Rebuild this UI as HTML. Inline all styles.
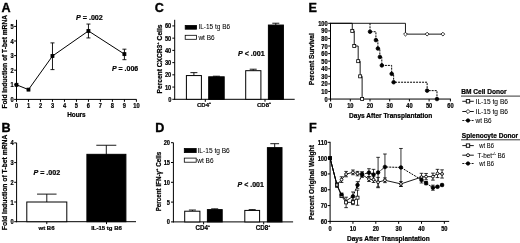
<!DOCTYPE html>
<html><head><meta charset="utf-8"><title>Figure</title>
<style>
html,body{margin:0;padding:0;background:#fff;}
body{width:520px;height:243px;overflow:hidden;}
svg{display:block;}
svg text{font-family:"Liberation Sans",Arial,Helvetica,sans-serif;fill:#000;stroke:#000;stroke-width:0.22px;}
</style></head><body>
<svg width="520" height="243" viewBox="0 0 520 243" style="filter:blur(0.45px)">
<rect x="0" y="0" width="520" height="243" fill="#fff"/>
<text x="1.5" y="11.8" font-size="12.6" font-weight="bold" text-anchor="start" style="stroke-width:0.35px">A</text>
<text x="1.6" y="132.0" font-size="12.6" font-weight="bold" text-anchor="start" style="stroke-width:0.35px">B</text>
<text x="154.8" y="12.0" font-size="12.6" font-weight="bold" text-anchor="start" style="stroke-width:0.35px">C</text>
<text x="155.3" y="131.9" font-size="12.6" font-weight="bold" text-anchor="start" style="stroke-width:0.35px">D</text>
<text x="308.5" y="11.6" font-size="12.6" font-weight="bold" text-anchor="start" style="stroke-width:0.35px">E</text>
<text x="309.0" y="131.6" font-size="12.6" font-weight="bold" text-anchor="start" style="stroke-width:0.35px">F</text>
<line x1="16.50" y1="19.80" x2="16.50" y2="99.90" stroke="#000" stroke-width="1.0"/>
<line x1="16.00" y1="99.40" x2="136.60" y2="99.40" stroke="#000" stroke-width="1.0"/>
<line x1="14.10" y1="99.40" x2="16.50" y2="99.40" stroke="#000" stroke-width="1.0"/>
<text x="13.6" y="101.95" font-size="6.4" font-weight="bold" text-anchor="end" textLength="3.17" lengthAdjust="spacingAndGlyphs" >0</text>
<line x1="14.10" y1="84.80" x2="16.50" y2="84.80" stroke="#000" stroke-width="1.0"/>
<text x="13.6" y="87.35000000000001" font-size="6.4" font-weight="bold" text-anchor="end" textLength="3.17" lengthAdjust="spacingAndGlyphs" >1</text>
<line x1="14.10" y1="70.20" x2="16.50" y2="70.20" stroke="#000" stroke-width="1.0"/>
<text x="13.6" y="72.75" font-size="6.4" font-weight="bold" text-anchor="end" textLength="3.17" lengthAdjust="spacingAndGlyphs" >2</text>
<line x1="14.10" y1="55.60" x2="16.50" y2="55.60" stroke="#000" stroke-width="1.0"/>
<text x="13.6" y="58.15000000000001" font-size="6.4" font-weight="bold" text-anchor="end" textLength="3.17" lengthAdjust="spacingAndGlyphs" >3</text>
<line x1="14.10" y1="41.00" x2="16.50" y2="41.00" stroke="#000" stroke-width="1.0"/>
<text x="13.6" y="43.55000000000001" font-size="6.4" font-weight="bold" text-anchor="end" textLength="3.17" lengthAdjust="spacingAndGlyphs" >4</text>
<line x1="14.10" y1="26.40" x2="16.50" y2="26.40" stroke="#000" stroke-width="1.0"/>
<text x="13.6" y="28.950000000000006" font-size="6.4" font-weight="bold" text-anchor="end" textLength="3.17" lengthAdjust="spacingAndGlyphs" >5</text>
<line x1="16.50" y1="99.40" x2="16.50" y2="101.80" stroke="#000" stroke-width="1.0"/>
<text x="16.5" y="107.9" font-size="6.4" font-weight="bold" text-anchor="middle" textLength="3.17" lengthAdjust="spacingAndGlyphs" >0</text>
<line x1="28.49" y1="99.40" x2="28.49" y2="101.80" stroke="#000" stroke-width="1.0"/>
<text x="28.490000000000002" y="107.9" font-size="6.4" font-weight="bold" text-anchor="middle" textLength="3.17" lengthAdjust="spacingAndGlyphs" >1</text>
<line x1="40.48" y1="99.40" x2="40.48" y2="101.80" stroke="#000" stroke-width="1.0"/>
<text x="40.480000000000004" y="107.9" font-size="6.4" font-weight="bold" text-anchor="middle" textLength="3.17" lengthAdjust="spacingAndGlyphs" >2</text>
<line x1="52.47" y1="99.40" x2="52.47" y2="101.80" stroke="#000" stroke-width="1.0"/>
<text x="52.47" y="107.9" font-size="6.4" font-weight="bold" text-anchor="middle" textLength="3.17" lengthAdjust="spacingAndGlyphs" >3</text>
<line x1="64.46" y1="99.40" x2="64.46" y2="101.80" stroke="#000" stroke-width="1.0"/>
<text x="64.46000000000001" y="107.9" font-size="6.4" font-weight="bold" text-anchor="middle" textLength="3.17" lengthAdjust="spacingAndGlyphs" >4</text>
<line x1="76.45" y1="99.40" x2="76.45" y2="101.80" stroke="#000" stroke-width="1.0"/>
<text x="76.45" y="107.9" font-size="6.4" font-weight="bold" text-anchor="middle" textLength="3.17" lengthAdjust="spacingAndGlyphs" >5</text>
<line x1="88.44" y1="99.40" x2="88.44" y2="101.80" stroke="#000" stroke-width="1.0"/>
<text x="88.44" y="107.9" font-size="6.4" font-weight="bold" text-anchor="middle" textLength="3.17" lengthAdjust="spacingAndGlyphs" >6</text>
<line x1="100.43" y1="99.40" x2="100.43" y2="101.80" stroke="#000" stroke-width="1.0"/>
<text x="100.43" y="107.9" font-size="6.4" font-weight="bold" text-anchor="middle" textLength="3.17" lengthAdjust="spacingAndGlyphs" >7</text>
<line x1="112.42" y1="99.40" x2="112.42" y2="101.80" stroke="#000" stroke-width="1.0"/>
<text x="112.42" y="107.9" font-size="6.4" font-weight="bold" text-anchor="middle" textLength="3.17" lengthAdjust="spacingAndGlyphs" >8</text>
<line x1="124.41" y1="99.40" x2="124.41" y2="101.80" stroke="#000" stroke-width="1.0"/>
<text x="124.41" y="107.9" font-size="6.4" font-weight="bold" text-anchor="middle" textLength="3.17" lengthAdjust="spacingAndGlyphs" >9</text>
<line x1="136.40" y1="99.40" x2="136.40" y2="101.80" stroke="#000" stroke-width="1.0"/>
<text x="136.4" y="107.9" font-size="6.4" font-weight="bold" text-anchor="middle" textLength="6.34" lengthAdjust="spacingAndGlyphs" >10</text>
<text x="76.4" y="116.7" font-size="6.4" font-weight="bold" text-anchor="middle" >Hours</text>
<text x="7.2" y="61.8" font-size="7.0" font-weight="bold" text-anchor="middle" textLength="93.5" lengthAdjust="spacingAndGlyphs" transform="rotate(-90 7.2 61.8)" >Fold Induction of T-bet mRNA</text>
<polyline points="16.50,84.80 28.49,89.62 52.47,56.04 88.44,30.93 124.41,54.14" fill="none" stroke="#000" stroke-width="1.0"/>
<line x1="52.47" y1="42.90" x2="52.47" y2="69.62" stroke="#000" stroke-width="0.9"/>
<line x1="50.47" y1="42.90" x2="54.47" y2="42.90" stroke="#000" stroke-width="0.9"/>
<line x1="50.47" y1="69.62" x2="54.47" y2="69.62" stroke="#000" stroke-width="0.9"/>
<line x1="88.44" y1="24.06" x2="88.44" y2="37.93" stroke="#000" stroke-width="0.9"/>
<line x1="86.44" y1="24.06" x2="90.44" y2="24.06" stroke="#000" stroke-width="0.9"/>
<line x1="86.44" y1="37.93" x2="90.44" y2="37.93" stroke="#000" stroke-width="0.9"/>
<line x1="124.41" y1="49.18" x2="124.41" y2="59.69" stroke="#000" stroke-width="0.9"/>
<line x1="122.41" y1="49.18" x2="126.41" y2="49.18" stroke="#000" stroke-width="0.9"/>
<line x1="122.41" y1="59.69" x2="126.41" y2="59.69" stroke="#000" stroke-width="0.9"/>
<rect x="15.00" y="83.30" width="3.00" height="3.00" fill="#000" stroke="#000" stroke-width="0.8"/>
<rect x="26.99" y="88.12" width="3.00" height="3.00" fill="#000" stroke="#000" stroke-width="0.8"/>
<rect x="50.97" y="54.54" width="3.00" height="3.00" fill="#000" stroke="#000" stroke-width="0.8"/>
<rect x="86.94" y="29.43" width="3.00" height="3.00" fill="#000" stroke="#000" stroke-width="0.8"/>
<rect x="122.91" y="52.64" width="3.00" height="3.00" fill="#000" stroke="#000" stroke-width="0.8"/>
<text x="76.0" y="20.0" font-size="7.3" font-weight="bold" text-anchor="start" textLength="26.8" lengthAdjust="spacingAndGlyphs" ><tspan font-style="italic">P</tspan> = .002</text>
<text x="112.0" y="71.0" font-size="7.3" font-weight="bold" text-anchor="start" textLength="26.2" lengthAdjust="spacingAndGlyphs" ><tspan font-style="italic">P</tspan> = .006</text>
<line x1="16.60" y1="142.90" x2="16.60" y2="222.20" stroke="#000" stroke-width="1.0"/>
<line x1="16.10" y1="221.70" x2="136.00" y2="221.70" stroke="#000" stroke-width="1.0"/>
<line x1="14.20" y1="221.70" x2="16.60" y2="221.70" stroke="#000" stroke-width="1.0"/>
<text x="13.700000000000001" y="224.24999999999997" font-size="6.4" font-weight="bold" text-anchor="end" textLength="3.17" lengthAdjust="spacingAndGlyphs" >0</text>
<line x1="14.20" y1="202.00" x2="16.60" y2="202.00" stroke="#000" stroke-width="1.0"/>
<text x="13.700000000000001" y="204.54999999999998" font-size="6.4" font-weight="bold" text-anchor="end" textLength="3.17" lengthAdjust="spacingAndGlyphs" >1</text>
<line x1="14.20" y1="182.30" x2="16.60" y2="182.30" stroke="#000" stroke-width="1.0"/>
<text x="13.700000000000001" y="184.84999999999997" font-size="6.4" font-weight="bold" text-anchor="end" textLength="3.17" lengthAdjust="spacingAndGlyphs" >2</text>
<line x1="14.20" y1="162.60" x2="16.60" y2="162.60" stroke="#000" stroke-width="1.0"/>
<text x="13.700000000000001" y="165.14999999999998" font-size="6.4" font-weight="bold" text-anchor="end" textLength="3.17" lengthAdjust="spacingAndGlyphs" >3</text>
<line x1="14.20" y1="142.90" x2="16.60" y2="142.90" stroke="#000" stroke-width="1.0"/>
<text x="13.700000000000001" y="145.44999999999996" font-size="6.4" font-weight="bold" text-anchor="end" textLength="3.17" lengthAdjust="spacingAndGlyphs" >4</text>
<line x1="46.80" y1="194.12" x2="46.80" y2="202.00" stroke="#000" stroke-width="0.9"/>
<line x1="37.05" y1="194.12" x2="56.55" y2="194.12" stroke="#000" stroke-width="0.9"/>
<rect x="26.80" y="202.00" width="40.00" height="19.70" fill="#fff" stroke="#000" stroke-width="1"/>
<line x1="106.30" y1="145.26" x2="106.30" y2="154.72" stroke="#000" stroke-width="0.9"/>
<line x1="96.30" y1="145.26" x2="116.30" y2="145.26" stroke="#000" stroke-width="0.9"/>
<rect x="86.90" y="154.33" width="39.00" height="67.37" fill="#000" stroke="#000" stroke-width="1"/>
<line x1="46.80" y1="221.70" x2="46.80" y2="224.10" stroke="#000" stroke-width="1.0"/>
<line x1="106.50" y1="221.70" x2="106.50" y2="224.10" stroke="#000" stroke-width="1.0"/>
<text x="46.5" y="230.2" font-size="6.0" font-weight="bold" text-anchor="middle" >wt B6</text>
<text x="106.5" y="230.2" font-size="6.0" font-weight="bold" text-anchor="middle" >IL-15 tg B6</text>
<text x="7.1" y="182.4" font-size="7.0" font-weight="bold" text-anchor="middle" textLength="95.5" lengthAdjust="spacingAndGlyphs" transform="rotate(-90 7.1 182.4)" >Fold Induction of T-bet mRNA</text>
<text x="33.4" y="175.2" font-size="7.3" font-weight="bold" text-anchor="start" textLength="26.8" lengthAdjust="spacingAndGlyphs" ><tspan font-style="italic">P</tspan> = .002</text>
<line x1="174.70" y1="19.80" x2="174.70" y2="99.80" stroke="#000" stroke-width="1.0"/>
<line x1="174.20" y1="99.30" x2="294.70" y2="99.30" stroke="#000" stroke-width="1.0"/>
<line x1="172.30" y1="99.30" x2="174.70" y2="99.30" stroke="#000" stroke-width="1.0"/>
<text x="171.29999999999998" y="101.85" font-size="6.4" font-weight="bold" text-anchor="end" textLength="3.17" lengthAdjust="spacingAndGlyphs" >0</text>
<line x1="172.30" y1="87.07" x2="174.70" y2="87.07" stroke="#000" stroke-width="1.0"/>
<text x="171.29999999999998" y="89.61999999999999" font-size="6.4" font-weight="bold" text-anchor="end" textLength="6.34" lengthAdjust="spacingAndGlyphs" >10</text>
<line x1="172.30" y1="74.84" x2="174.70" y2="74.84" stroke="#000" stroke-width="1.0"/>
<text x="171.29999999999998" y="77.39" font-size="6.4" font-weight="bold" text-anchor="end" textLength="6.34" lengthAdjust="spacingAndGlyphs" >20</text>
<line x1="172.30" y1="62.61" x2="174.70" y2="62.61" stroke="#000" stroke-width="1.0"/>
<text x="171.29999999999998" y="65.16" font-size="6.4" font-weight="bold" text-anchor="end" textLength="6.34" lengthAdjust="spacingAndGlyphs" >30</text>
<line x1="172.30" y1="50.38" x2="174.70" y2="50.38" stroke="#000" stroke-width="1.0"/>
<text x="171.29999999999998" y="52.93" font-size="6.4" font-weight="bold" text-anchor="end" textLength="6.34" lengthAdjust="spacingAndGlyphs" >40</text>
<line x1="172.30" y1="38.15" x2="174.70" y2="38.15" stroke="#000" stroke-width="1.0"/>
<text x="171.29999999999998" y="40.699999999999996" font-size="6.4" font-weight="bold" text-anchor="end" textLength="6.34" lengthAdjust="spacingAndGlyphs" >50</text>
<line x1="172.30" y1="25.92" x2="174.70" y2="25.92" stroke="#000" stroke-width="1.0"/>
<text x="171.29999999999998" y="28.469999999999988" font-size="6.4" font-weight="bold" text-anchor="end" textLength="6.34" lengthAdjust="spacingAndGlyphs" >60</text>
<line x1="193.90" y1="72.64" x2="193.90" y2="75.57" stroke="#000" stroke-width="0.9"/>
<line x1="190.40" y1="72.64" x2="197.40" y2="72.64" stroke="#000" stroke-width="0.9"/>
<rect x="186.40" y="75.57" width="15.00" height="23.73" fill="#fff" stroke="#000" stroke-width="1"/>
<line x1="216.40" y1="76.19" x2="216.40" y2="76.80" stroke="#000" stroke-width="0.9"/>
<line x1="212.90" y1="76.19" x2="219.90" y2="76.19" stroke="#000" stroke-width="0.9"/>
<rect x="208.70" y="76.80" width="15.50" height="22.50" fill="#000" stroke="#000" stroke-width="1"/>
<line x1="253.20" y1="69.21" x2="253.20" y2="70.68" stroke="#000" stroke-width="0.9"/>
<line x1="249.70" y1="69.21" x2="256.70" y2="69.21" stroke="#000" stroke-width="0.9"/>
<rect x="245.70" y="70.68" width="15.20" height="28.62" fill="#fff" stroke="#000" stroke-width="1"/>
<line x1="275.80" y1="23.23" x2="275.80" y2="25.06" stroke="#000" stroke-width="0.9"/>
<line x1="272.30" y1="23.23" x2="279.30" y2="23.23" stroke="#000" stroke-width="0.9"/>
<rect x="268.40" y="25.06" width="15.00" height="74.24" fill="#000" stroke="#000" stroke-width="1"/>
<line x1="205.30" y1="99.30" x2="205.30" y2="101.80" stroke="#000" stroke-width="1.0"/>
<line x1="265.00" y1="99.30" x2="265.00" y2="101.70" stroke="#000" stroke-width="1.0"/>
<text x="197.0" y="107.4" font-size="6.2" font-weight="bold" text-anchor="start" textLength="14.0" lengthAdjust="spacingAndGlyphs" >CD4<tspan font-size="3.4" dy="-3.0">+</tspan></text>
<text x="257.0" y="107.4" font-size="6.2" font-weight="bold" text-anchor="start" textLength="14.0" lengthAdjust="spacingAndGlyphs" >CD8<tspan font-size="3.4" dy="-3.0">+</tspan></text>
<text x="162.0" y="59.0" font-size="6.5" font-weight="bold" text-anchor="middle" textLength="69.0" lengthAdjust="spacingAndGlyphs" transform="rotate(-90 162.0 59.0)" >Percent CXCR3<tspan font-size="4.2" dy="-3.0">+</tspan><tspan dy="3.0"> Cells</tspan></text>
<rect x="185.20" y="25.40" width="11.40" height="3.80" fill="#000" stroke="#000" stroke-width="0.8"/>
<rect x="185.20" y="35.30" width="11.40" height="4.00" fill="#fff" stroke="#000" stroke-width="0.8"/>
<text x="198.4" y="29.3" font-size="7.0" font-weight="normal" text-anchor="start" textLength="31.8" lengthAdjust="spacingAndGlyphs" style="stroke-width:0.06px">IL-15 tg B6</text>
<text x="198.4" y="39.7" font-size="7.0" font-weight="normal" text-anchor="start" textLength="16.2" lengthAdjust="spacingAndGlyphs" style="stroke-width:0.06px">wt B6</text>
<text x="238" y="55.5" font-size="7.3" font-weight="bold" text-anchor="start" textLength="26.7" lengthAdjust="spacingAndGlyphs" ><tspan font-style="italic">P</tspan> &lt; .001</text>
<line x1="173.40" y1="142.70" x2="173.40" y2="222.40" stroke="#000" stroke-width="1.0"/>
<line x1="172.90" y1="221.90" x2="293.10" y2="221.90" stroke="#000" stroke-width="1.0"/>
<line x1="171.00" y1="221.90" x2="173.40" y2="221.90" stroke="#000" stroke-width="1.0"/>
<text x="170.0" y="224.45" font-size="6.4" font-weight="bold" text-anchor="end" textLength="3.17" lengthAdjust="spacingAndGlyphs" >0</text>
<line x1="171.00" y1="202.10" x2="173.40" y2="202.10" stroke="#000" stroke-width="1.0"/>
<text x="170.0" y="204.64999999999998" font-size="6.4" font-weight="bold" text-anchor="end" textLength="3.17" lengthAdjust="spacingAndGlyphs" >5</text>
<line x1="171.00" y1="182.30" x2="173.40" y2="182.30" stroke="#000" stroke-width="1.0"/>
<text x="170.0" y="184.85" font-size="6.4" font-weight="bold" text-anchor="end" textLength="6.34" lengthAdjust="spacingAndGlyphs" >10</text>
<line x1="171.00" y1="162.50" x2="173.40" y2="162.50" stroke="#000" stroke-width="1.0"/>
<text x="170.0" y="165.04999999999998" font-size="6.4" font-weight="bold" text-anchor="end" textLength="6.34" lengthAdjust="spacingAndGlyphs" >15</text>
<line x1="171.00" y1="142.70" x2="173.40" y2="142.70" stroke="#000" stroke-width="1.0"/>
<text x="170.0" y="145.24999999999997" font-size="6.4" font-weight="bold" text-anchor="end" textLength="6.34" lengthAdjust="spacingAndGlyphs" >20</text>
<line x1="192.40" y1="210.02" x2="192.40" y2="211.21" stroke="#000" stroke-width="0.9"/>
<line x1="188.90" y1="210.02" x2="195.90" y2="210.02" stroke="#000" stroke-width="0.9"/>
<rect x="184.70" y="211.21" width="15.20" height="10.69" fill="#fff" stroke="#000" stroke-width="1"/>
<line x1="214.70" y1="208.83" x2="214.70" y2="209.62" stroke="#000" stroke-width="0.9"/>
<line x1="211.20" y1="208.83" x2="218.20" y2="208.83" stroke="#000" stroke-width="0.9"/>
<rect x="207.40" y="209.62" width="14.80" height="12.28" fill="#000" stroke="#000" stroke-width="1"/>
<line x1="252.20" y1="209.62" x2="252.20" y2="210.42" stroke="#000" stroke-width="0.9"/>
<line x1="248.70" y1="209.62" x2="255.70" y2="209.62" stroke="#000" stroke-width="0.9"/>
<rect x="244.80" y="210.42" width="14.80" height="11.48" fill="#fff" stroke="#000" stroke-width="1"/>
<line x1="274.70" y1="143.69" x2="274.70" y2="147.65" stroke="#000" stroke-width="0.9"/>
<line x1="270.30" y1="143.69" x2="279.10" y2="143.69" stroke="#000" stroke-width="0.9"/>
<rect x="267.40" y="147.65" width="14.60" height="74.25" fill="#000" stroke="#000" stroke-width="1"/>
<line x1="203.60" y1="221.90" x2="203.60" y2="224.30" stroke="#000" stroke-width="1.0"/>
<line x1="263.70" y1="221.90" x2="263.70" y2="224.30" stroke="#000" stroke-width="1.0"/>
<text x="195.6" y="230.1" font-size="6.5" font-weight="bold" text-anchor="start" textLength="14.4" lengthAdjust="spacingAndGlyphs" >CD4<tspan font-size="3.4" dy="-3.2">+</tspan></text>
<text x="255.8" y="230.1" font-size="6.5" font-weight="bold" text-anchor="start" textLength="14.4" lengthAdjust="spacingAndGlyphs" >CD8<tspan font-size="3.4" dy="-3.2">+</tspan></text>
<text x="160.6" y="181.6" font-size="6.5" font-weight="bold" text-anchor="middle" textLength="59.5" lengthAdjust="spacingAndGlyphs" transform="rotate(-90 160.6 181.6)" >Percent IFN-γ<tspan font-size="4.2" dy="-3.0">+</tspan><tspan dy="3.0"> Cells</tspan></text>
<rect x="184.30" y="148.50" width="11.90" height="4.10" fill="#000" stroke="#000" stroke-width="0.8"/>
<rect x="184.30" y="158.10" width="11.90" height="4.10" fill="#fff" stroke="#000" stroke-width="0.8"/>
<text x="197.5" y="152.9" font-size="7.0" font-weight="normal" text-anchor="start" textLength="32.3" lengthAdjust="spacingAndGlyphs" style="stroke-width:0.06px">IL-15 tg B6</text>
<text x="197.3" y="162.7" font-size="7.0" font-weight="normal" text-anchor="start" textLength="16.2" lengthAdjust="spacingAndGlyphs" style="stroke-width:0.06px">wt B6</text>
<text x="237.6" y="187.4" font-size="7.3" font-weight="bold" text-anchor="start" textLength="26.2" lengthAdjust="spacingAndGlyphs" ><tspan font-style="italic">P</tspan> &lt; .001</text>
<line x1="330.50" y1="22.80" x2="330.50" y2="99.55" stroke="#000" stroke-width="1.0"/>
<line x1="330.10" y1="99.05" x2="450.90" y2="99.05" stroke="#000" stroke-width="1.0"/>
<line x1="328.20" y1="99.05" x2="330.60" y2="99.05" stroke="#000" stroke-width="1.0"/>
<text x="327.70000000000005" y="101.6" font-size="6.4" font-weight="bold" text-anchor="end" textLength="3.17" lengthAdjust="spacingAndGlyphs" >0</text>
<line x1="328.20" y1="91.47" x2="330.60" y2="91.47" stroke="#000" stroke-width="1.0"/>
<text x="327.70000000000005" y="94.02499999999999" font-size="6.4" font-weight="bold" text-anchor="end" textLength="6.34" lengthAdjust="spacingAndGlyphs" >10</text>
<line x1="328.20" y1="83.90" x2="330.60" y2="83.90" stroke="#000" stroke-width="1.0"/>
<text x="327.70000000000005" y="86.45" font-size="6.4" font-weight="bold" text-anchor="end" textLength="6.34" lengthAdjust="spacingAndGlyphs" >20</text>
<line x1="328.20" y1="76.33" x2="330.60" y2="76.33" stroke="#000" stroke-width="1.0"/>
<text x="327.70000000000005" y="78.875" font-size="6.4" font-weight="bold" text-anchor="end" textLength="6.34" lengthAdjust="spacingAndGlyphs" >30</text>
<line x1="328.20" y1="68.75" x2="330.60" y2="68.75" stroke="#000" stroke-width="1.0"/>
<text x="327.70000000000005" y="71.3" font-size="6.4" font-weight="bold" text-anchor="end" textLength="6.34" lengthAdjust="spacingAndGlyphs" >40</text>
<line x1="328.20" y1="61.17" x2="330.60" y2="61.17" stroke="#000" stroke-width="1.0"/>
<text x="327.70000000000005" y="63.725" font-size="6.4" font-weight="bold" text-anchor="end" textLength="6.34" lengthAdjust="spacingAndGlyphs" >50</text>
<line x1="328.20" y1="53.60" x2="330.60" y2="53.60" stroke="#000" stroke-width="1.0"/>
<text x="327.70000000000005" y="56.150000000000006" font-size="6.4" font-weight="bold" text-anchor="end" textLength="6.34" lengthAdjust="spacingAndGlyphs" >60</text>
<line x1="328.20" y1="46.02" x2="330.60" y2="46.02" stroke="#000" stroke-width="1.0"/>
<text x="327.70000000000005" y="48.575" font-size="6.4" font-weight="bold" text-anchor="end" textLength="6.34" lengthAdjust="spacingAndGlyphs" >70</text>
<line x1="328.20" y1="38.45" x2="330.60" y2="38.45" stroke="#000" stroke-width="1.0"/>
<text x="327.70000000000005" y="41.00000000000001" font-size="6.4" font-weight="bold" text-anchor="end" textLength="6.34" lengthAdjust="spacingAndGlyphs" >80</text>
<line x1="328.20" y1="30.88" x2="330.60" y2="30.88" stroke="#000" stroke-width="1.0"/>
<text x="327.70000000000005" y="33.425000000000004" font-size="6.4" font-weight="bold" text-anchor="end" textLength="6.34" lengthAdjust="spacingAndGlyphs" >90</text>
<line x1="328.20" y1="23.30" x2="330.60" y2="23.30" stroke="#000" stroke-width="1.0"/>
<text x="327.70000000000005" y="25.849999999999998" font-size="6.4" font-weight="bold" text-anchor="end" textLength="9.51" lengthAdjust="spacingAndGlyphs" >100</text>
<line x1="330.60" y1="99.05" x2="330.60" y2="101.45" stroke="#000" stroke-width="1.0"/>
<text x="330.6" y="107.5" font-size="6.4" font-weight="bold" text-anchor="middle" textLength="3.17" lengthAdjust="spacingAndGlyphs" >0</text>
<line x1="350.30" y1="99.05" x2="350.30" y2="101.45" stroke="#000" stroke-width="1.0"/>
<text x="350.3" y="107.5" font-size="6.4" font-weight="bold" text-anchor="middle" textLength="6.34" lengthAdjust="spacingAndGlyphs" >10</text>
<line x1="370.00" y1="99.05" x2="370.00" y2="101.45" stroke="#000" stroke-width="1.0"/>
<text x="370.0" y="107.5" font-size="6.4" font-weight="bold" text-anchor="middle" textLength="6.34" lengthAdjust="spacingAndGlyphs" >20</text>
<line x1="389.70" y1="99.05" x2="389.70" y2="101.45" stroke="#000" stroke-width="1.0"/>
<text x="389.70000000000005" y="107.5" font-size="6.4" font-weight="bold" text-anchor="middle" textLength="6.34" lengthAdjust="spacingAndGlyphs" >30</text>
<line x1="409.40" y1="99.05" x2="409.40" y2="101.45" stroke="#000" stroke-width="1.0"/>
<text x="409.40000000000003" y="107.5" font-size="6.4" font-weight="bold" text-anchor="middle" textLength="6.34" lengthAdjust="spacingAndGlyphs" >40</text>
<line x1="429.10" y1="99.05" x2="429.10" y2="101.45" stroke="#000" stroke-width="1.0"/>
<text x="429.1" y="107.5" font-size="6.4" font-weight="bold" text-anchor="middle" textLength="6.34" lengthAdjust="spacingAndGlyphs" >50</text>
<line x1="450.40" y1="99.05" x2="450.40" y2="101.45" stroke="#000" stroke-width="1.0"/>
<text x="450.4" y="107.5" font-size="6.4" font-weight="bold" text-anchor="middle" textLength="6.34" lengthAdjust="spacingAndGlyphs" >60</text>
<text x="390.7" y="118.0" font-size="6.4" font-weight="bold" text-anchor="middle" textLength="83.4" lengthAdjust="spacingAndGlyphs" >Days After Transplantation</text>
<text x="314.0" y="59.2" font-size="7.0" font-weight="bold" text-anchor="middle" textLength="52.2" lengthAdjust="spacingAndGlyphs" transform="rotate(-90 314.0 59.2)" >Percent Survival</text>
<polyline points="330.60,23.30 405.46,23.30 405.46,34.13 442.89,34.13" fill="none" stroke="#000" stroke-width="0.9"/>
<polygon points="403.56,34.13 405.46,32.23 407.36,34.13 405.46,36.03" fill="#fff" stroke="#000" stroke-width="0.8"/>
<polygon points="425.23,34.13 427.13,32.23 429.03,34.13 427.13,36.03" fill="#fff" stroke="#000" stroke-width="0.8"/>
<polygon points="440.99,34.13 442.89,32.23 444.79,34.13 442.89,36.03" fill="#fff" stroke="#000" stroke-width="0.8"/>
<polyline points="330.60,23.30 352.27,23.30 352.27,23.30 352.27,30.88 354.24,30.88 354.24,46.02 358.18,46.02 358.18,61.17 360.15,61.17 360.15,76.33 362.12,76.33 362.12,99.05" fill="none" stroke="#000" stroke-width="0.9"/>
<rect x="350.77" y="29.38" width="3.00" height="3.00" fill="#fff" stroke="#000" stroke-width="0.8"/>
<rect x="352.74" y="44.52" width="3.00" height="3.00" fill="#fff" stroke="#000" stroke-width="0.8"/>
<rect x="356.68" y="59.67" width="3.00" height="3.00" fill="#fff" stroke="#000" stroke-width="0.8"/>
<rect x="358.65" y="74.83" width="3.00" height="3.00" fill="#fff" stroke="#000" stroke-width="0.8"/>
<rect x="360.62" y="97.55" width="3.00" height="3.00" fill="#fff" stroke="#000" stroke-width="0.8"/>
<polyline points="370.00,23.30 370.00,23.30 370.00,31.71 375.91,31.71 375.91,40.12 377.88,40.12 377.88,48.52 379.85,48.52 379.85,56.93 381.82,56.93 381.82,65.42 391.67,65.42 391.67,73.83 393.64,73.83 393.64,82.23 427.13,82.23 427.13,90.64 436.98,90.64 436.98,99.05" fill="none" stroke="#000" stroke-width="1.0" stroke-dasharray="2.0 1.0"/>
<circle cx="370.00" cy="31.71" r="1.8" fill="#000" stroke="#000" stroke-width="0.8"/>
<circle cx="375.91" cy="40.12" r="1.8" fill="#000" stroke="#000" stroke-width="0.8"/>
<circle cx="377.88" cy="48.52" r="1.8" fill="#000" stroke="#000" stroke-width="0.8"/>
<circle cx="379.85" cy="56.93" r="1.8" fill="#000" stroke="#000" stroke-width="0.8"/>
<circle cx="381.82" cy="65.42" r="1.8" fill="#000" stroke="#000" stroke-width="0.8"/>
<circle cx="391.67" cy="73.83" r="1.8" fill="#000" stroke="#000" stroke-width="0.8"/>
<circle cx="393.64" cy="82.23" r="1.8" fill="#000" stroke="#000" stroke-width="0.8"/>
<circle cx="427.13" cy="90.64" r="1.8" fill="#000" stroke="#000" stroke-width="0.8"/>
<circle cx="436.98" cy="99.05" r="1.8" fill="#000" stroke="#000" stroke-width="0.8"/>
<line x1="330.10" y1="141.80" x2="330.10" y2="221.90" stroke="#000" stroke-width="1.0"/>
<line x1="329.60" y1="221.40" x2="449.20" y2="221.40" stroke="#000" stroke-width="1.0"/>
<line x1="327.70" y1="221.40" x2="330.10" y2="221.40" stroke="#000" stroke-width="1.0"/>
<text x="327.20000000000005" y="223.95" font-size="6.4" font-weight="bold" text-anchor="end" textLength="6.34" lengthAdjust="spacingAndGlyphs" >60</text>
<line x1="327.70" y1="205.58" x2="330.10" y2="205.58" stroke="#000" stroke-width="1.0"/>
<text x="327.20000000000005" y="208.13" font-size="6.4" font-weight="bold" text-anchor="end" textLength="6.34" lengthAdjust="spacingAndGlyphs" >70</text>
<line x1="327.70" y1="189.76" x2="330.10" y2="189.76" stroke="#000" stroke-width="1.0"/>
<text x="327.20000000000005" y="192.30999999999997" font-size="6.4" font-weight="bold" text-anchor="end" textLength="6.34" lengthAdjust="spacingAndGlyphs" >80</text>
<line x1="327.70" y1="173.94" x2="330.10" y2="173.94" stroke="#000" stroke-width="1.0"/>
<text x="327.20000000000005" y="176.48999999999998" font-size="6.4" font-weight="bold" text-anchor="end" textLength="6.34" lengthAdjust="spacingAndGlyphs" >90</text>
<line x1="327.70" y1="158.12" x2="330.10" y2="158.12" stroke="#000" stroke-width="1.0"/>
<text x="327.20000000000005" y="160.67" font-size="6.4" font-weight="bold" text-anchor="end" textLength="9.51" lengthAdjust="spacingAndGlyphs" >100</text>
<line x1="327.70" y1="142.30" x2="330.10" y2="142.30" stroke="#000" stroke-width="1.0"/>
<text x="327.20000000000005" y="144.85" font-size="6.4" font-weight="bold" text-anchor="end" textLength="9.51" lengthAdjust="spacingAndGlyphs" >110</text>
<line x1="330.10" y1="221.40" x2="330.10" y2="223.80" stroke="#000" stroke-width="1.0"/>
<text x="330.1" y="230.6" font-size="6.4" font-weight="bold" text-anchor="middle" textLength="3.17" lengthAdjust="spacingAndGlyphs" >0</text>
<line x1="352.95" y1="221.40" x2="352.95" y2="223.80" stroke="#000" stroke-width="1.0"/>
<text x="352.95000000000005" y="230.6" font-size="6.4" font-weight="bold" text-anchor="middle" textLength="6.34" lengthAdjust="spacingAndGlyphs" >10</text>
<line x1="375.80" y1="221.40" x2="375.80" y2="223.80" stroke="#000" stroke-width="1.0"/>
<text x="375.8" y="230.6" font-size="6.4" font-weight="bold" text-anchor="middle" textLength="6.34" lengthAdjust="spacingAndGlyphs" >20</text>
<line x1="398.65" y1="221.40" x2="398.65" y2="223.80" stroke="#000" stroke-width="1.0"/>
<text x="398.65000000000003" y="230.6" font-size="6.4" font-weight="bold" text-anchor="middle" textLength="6.34" lengthAdjust="spacingAndGlyphs" >30</text>
<line x1="421.50" y1="221.40" x2="421.50" y2="223.80" stroke="#000" stroke-width="1.0"/>
<text x="421.5" y="230.6" font-size="6.4" font-weight="bold" text-anchor="middle" textLength="6.34" lengthAdjust="spacingAndGlyphs" >40</text>
<line x1="444.35" y1="221.40" x2="444.35" y2="223.80" stroke="#000" stroke-width="1.0"/>
<text x="444.35" y="230.6" font-size="6.4" font-weight="bold" text-anchor="middle" textLength="6.34" lengthAdjust="spacingAndGlyphs" >50</text>
<text x="388.4" y="240.7" font-size="6.4" font-weight="bold" text-anchor="middle" textLength="82.8" lengthAdjust="spacingAndGlyphs" >Days After Transplantation</text>
<text x="314.0" y="182.6" font-size="7.0" font-weight="bold" text-anchor="middle" textLength="74.9" lengthAdjust="spacingAndGlyphs" transform="rotate(-90 314.0 182.6)" >Percent Original Weight</text>
<polyline points="330.10,158.12 336.96,185.01 341.53,196.09 346.10,202.42 352.95,202.26 357.52,197.67" fill="none" stroke="#000" stroke-width="0.9"/>
<polyline points="330.10,158.12 336.96,185.01 341.53,179.64 346.10,174.10 352.95,172.36 357.52,173.62 362.09,174.57 368.95,179.16 373.52,179.64 378.09,182.17 384.94,180.27 400.94,183.91 421.50,177.10 426.07,176.63 432.93,176.63 437.50,173.47 442.07,173.94" fill="none" stroke="#000" stroke-width="0.9"/>
<polyline points="330.10,158.12 336.96,185.01 341.53,194.51 346.10,200.83 352.95,196.40" fill="none" stroke="#000" stroke-width="0.9"/>
<polyline points="352.95,196.40 357.52,185.01 362.09,174.41 368.95,172.67 373.52,174.57 378.09,172.52 384.94,166.98 400.94,167.45 421.50,179.79 426.07,183.12 432.93,187.70 437.50,186.75 442.07,185.01" fill="none" stroke="#000" stroke-width="1.0" stroke-dasharray="2.0 1.0"/>
<line x1="336.96" y1="183.12" x2="336.96" y2="186.91" stroke="#000" stroke-width="0.8"/>
<line x1="335.16" y1="183.12" x2="338.76" y2="183.12" stroke="#000" stroke-width="0.8"/>
<line x1="335.16" y1="186.91" x2="338.76" y2="186.91" stroke="#000" stroke-width="0.8"/>
<line x1="341.53" y1="194.82" x2="341.53" y2="197.35" stroke="#000" stroke-width="0.8"/>
<line x1="339.73" y1="194.82" x2="343.33" y2="194.82" stroke="#000" stroke-width="0.8"/>
<line x1="339.73" y1="197.35" x2="343.33" y2="197.35" stroke="#000" stroke-width="0.8"/>
<line x1="346.10" y1="197.20" x2="346.10" y2="207.64" stroke="#000" stroke-width="0.8"/>
<line x1="344.30" y1="197.20" x2="347.90" y2="197.20" stroke="#000" stroke-width="0.8"/>
<line x1="344.30" y1="207.64" x2="347.90" y2="207.64" stroke="#000" stroke-width="0.8"/>
<line x1="352.95" y1="199.88" x2="352.95" y2="204.63" stroke="#000" stroke-width="0.8"/>
<line x1="351.15" y1="199.88" x2="354.75" y2="199.88" stroke="#000" stroke-width="0.8"/>
<line x1="351.15" y1="204.63" x2="354.75" y2="204.63" stroke="#000" stroke-width="0.8"/>
<line x1="357.52" y1="190.08" x2="357.52" y2="205.26" stroke="#000" stroke-width="0.8"/>
<line x1="355.72" y1="190.08" x2="359.32" y2="190.08" stroke="#000" stroke-width="0.8"/>
<line x1="355.72" y1="205.26" x2="359.32" y2="205.26" stroke="#000" stroke-width="0.8"/>
<line x1="336.96" y1="182.80" x2="336.96" y2="187.23" stroke="#000" stroke-width="0.8"/>
<line x1="335.16" y1="182.80" x2="338.76" y2="182.80" stroke="#000" stroke-width="0.8"/>
<line x1="335.16" y1="187.23" x2="338.76" y2="187.23" stroke="#000" stroke-width="0.8"/>
<line x1="341.53" y1="176.79" x2="341.53" y2="182.48" stroke="#000" stroke-width="0.8"/>
<line x1="339.73" y1="176.79" x2="343.33" y2="176.79" stroke="#000" stroke-width="0.8"/>
<line x1="339.73" y1="182.48" x2="343.33" y2="182.48" stroke="#000" stroke-width="0.8"/>
<line x1="346.10" y1="171.41" x2="346.10" y2="176.79" stroke="#000" stroke-width="0.8"/>
<line x1="344.30" y1="171.41" x2="347.90" y2="171.41" stroke="#000" stroke-width="0.8"/>
<line x1="344.30" y1="176.79" x2="347.90" y2="176.79" stroke="#000" stroke-width="0.8"/>
<line x1="352.95" y1="169.99" x2="352.95" y2="174.73" stroke="#000" stroke-width="0.8"/>
<line x1="351.15" y1="169.99" x2="354.75" y2="169.99" stroke="#000" stroke-width="0.8"/>
<line x1="351.15" y1="174.73" x2="354.75" y2="174.73" stroke="#000" stroke-width="0.8"/>
<line x1="357.52" y1="171.41" x2="357.52" y2="175.84" stroke="#000" stroke-width="0.8"/>
<line x1="355.72" y1="171.41" x2="359.32" y2="171.41" stroke="#000" stroke-width="0.8"/>
<line x1="355.72" y1="175.84" x2="359.32" y2="175.84" stroke="#000" stroke-width="0.8"/>
<line x1="362.09" y1="171.88" x2="362.09" y2="177.26" stroke="#000" stroke-width="0.8"/>
<line x1="360.29" y1="171.88" x2="363.89" y2="171.88" stroke="#000" stroke-width="0.8"/>
<line x1="360.29" y1="177.26" x2="363.89" y2="177.26" stroke="#000" stroke-width="0.8"/>
<line x1="368.95" y1="176.79" x2="368.95" y2="181.53" stroke="#000" stroke-width="0.8"/>
<line x1="367.15" y1="176.79" x2="370.75" y2="176.79" stroke="#000" stroke-width="0.8"/>
<line x1="367.15" y1="181.53" x2="370.75" y2="181.53" stroke="#000" stroke-width="0.8"/>
<line x1="373.52" y1="176.79" x2="373.52" y2="182.48" stroke="#000" stroke-width="0.8"/>
<line x1="371.72" y1="176.79" x2="375.32" y2="176.79" stroke="#000" stroke-width="0.8"/>
<line x1="371.72" y1="182.48" x2="375.32" y2="182.48" stroke="#000" stroke-width="0.8"/>
<line x1="378.09" y1="177.42" x2="378.09" y2="186.91" stroke="#000" stroke-width="0.8"/>
<line x1="376.29" y1="177.42" x2="379.89" y2="177.42" stroke="#000" stroke-width="0.8"/>
<line x1="376.29" y1="186.91" x2="379.89" y2="186.91" stroke="#000" stroke-width="0.8"/>
<line x1="384.94" y1="177.90" x2="384.94" y2="182.64" stroke="#000" stroke-width="0.8"/>
<line x1="383.14" y1="177.90" x2="386.74" y2="177.90" stroke="#000" stroke-width="0.8"/>
<line x1="383.14" y1="182.64" x2="386.74" y2="182.64" stroke="#000" stroke-width="0.8"/>
<line x1="400.94" y1="181.53" x2="400.94" y2="186.28" stroke="#000" stroke-width="0.8"/>
<line x1="399.14" y1="181.53" x2="402.74" y2="181.53" stroke="#000" stroke-width="0.8"/>
<line x1="399.14" y1="186.28" x2="402.74" y2="186.28" stroke="#000" stroke-width="0.8"/>
<line x1="421.50" y1="173.31" x2="421.50" y2="180.90" stroke="#000" stroke-width="0.8"/>
<line x1="419.70" y1="173.31" x2="423.30" y2="173.31" stroke="#000" stroke-width="0.8"/>
<line x1="419.70" y1="180.90" x2="423.30" y2="180.90" stroke="#000" stroke-width="0.8"/>
<line x1="426.07" y1="173.47" x2="426.07" y2="179.79" stroke="#000" stroke-width="0.8"/>
<line x1="424.27" y1="173.47" x2="427.87" y2="173.47" stroke="#000" stroke-width="0.8"/>
<line x1="424.27" y1="179.79" x2="427.87" y2="179.79" stroke="#000" stroke-width="0.8"/>
<line x1="432.93" y1="173.15" x2="432.93" y2="180.11" stroke="#000" stroke-width="0.8"/>
<line x1="431.12" y1="173.15" x2="434.73" y2="173.15" stroke="#000" stroke-width="0.8"/>
<line x1="431.12" y1="180.11" x2="434.73" y2="180.11" stroke="#000" stroke-width="0.8"/>
<line x1="437.50" y1="169.35" x2="437.50" y2="177.58" stroke="#000" stroke-width="0.8"/>
<line x1="435.69" y1="169.35" x2="439.30" y2="169.35" stroke="#000" stroke-width="0.8"/>
<line x1="435.69" y1="177.58" x2="439.30" y2="177.58" stroke="#000" stroke-width="0.8"/>
<line x1="442.07" y1="169.83" x2="442.07" y2="178.05" stroke="#000" stroke-width="0.8"/>
<line x1="440.27" y1="169.83" x2="443.87" y2="169.83" stroke="#000" stroke-width="0.8"/>
<line x1="440.27" y1="178.05" x2="443.87" y2="178.05" stroke="#000" stroke-width="0.8"/>
<line x1="352.95" y1="191.97" x2="352.95" y2="200.83" stroke="#000" stroke-width="0.8"/>
<line x1="351.15" y1="191.97" x2="354.75" y2="191.97" stroke="#000" stroke-width="0.8"/>
<line x1="351.15" y1="200.83" x2="354.75" y2="200.83" stroke="#000" stroke-width="0.8"/>
<line x1="357.52" y1="181.69" x2="357.52" y2="188.34" stroke="#000" stroke-width="0.8"/>
<line x1="355.72" y1="181.69" x2="359.32" y2="181.69" stroke="#000" stroke-width="0.8"/>
<line x1="355.72" y1="188.34" x2="359.32" y2="188.34" stroke="#000" stroke-width="0.8"/>
<line x1="362.09" y1="172.04" x2="362.09" y2="176.79" stroke="#000" stroke-width="0.8"/>
<line x1="360.29" y1="172.04" x2="363.89" y2="172.04" stroke="#000" stroke-width="0.8"/>
<line x1="360.29" y1="176.79" x2="363.89" y2="176.79" stroke="#000" stroke-width="0.8"/>
<line x1="368.95" y1="168.72" x2="368.95" y2="176.63" stroke="#000" stroke-width="0.8"/>
<line x1="367.15" y1="168.72" x2="370.75" y2="168.72" stroke="#000" stroke-width="0.8"/>
<line x1="367.15" y1="176.63" x2="370.75" y2="176.63" stroke="#000" stroke-width="0.8"/>
<line x1="373.52" y1="169.35" x2="373.52" y2="179.79" stroke="#000" stroke-width="0.8"/>
<line x1="371.72" y1="169.35" x2="375.32" y2="169.35" stroke="#000" stroke-width="0.8"/>
<line x1="371.72" y1="179.79" x2="375.32" y2="179.79" stroke="#000" stroke-width="0.8"/>
<line x1="378.09" y1="157.33" x2="378.09" y2="187.70" stroke="#000" stroke-width="0.8"/>
<line x1="376.29" y1="157.33" x2="379.89" y2="157.33" stroke="#000" stroke-width="0.8"/>
<line x1="376.29" y1="187.70" x2="379.89" y2="187.70" stroke="#000" stroke-width="0.8"/>
<line x1="384.94" y1="154.01" x2="384.94" y2="179.95" stroke="#000" stroke-width="0.8"/>
<line x1="383.14" y1="154.01" x2="386.74" y2="154.01" stroke="#000" stroke-width="0.8"/>
<line x1="383.14" y1="179.95" x2="386.74" y2="179.95" stroke="#000" stroke-width="0.8"/>
<line x1="400.94" y1="148.47" x2="400.94" y2="186.44" stroke="#000" stroke-width="0.8"/>
<line x1="399.14" y1="148.47" x2="402.74" y2="148.47" stroke="#000" stroke-width="0.8"/>
<line x1="399.14" y1="186.44" x2="402.74" y2="186.44" stroke="#000" stroke-width="0.8"/>
<line x1="421.50" y1="176.63" x2="421.50" y2="182.96" stroke="#000" stroke-width="0.8"/>
<line x1="419.70" y1="176.63" x2="423.30" y2="176.63" stroke="#000" stroke-width="0.8"/>
<line x1="419.70" y1="182.96" x2="423.30" y2="182.96" stroke="#000" stroke-width="0.8"/>
<line x1="426.07" y1="181.53" x2="426.07" y2="184.70" stroke="#000" stroke-width="0.8"/>
<line x1="424.27" y1="181.53" x2="427.87" y2="181.53" stroke="#000" stroke-width="0.8"/>
<line x1="424.27" y1="184.70" x2="427.87" y2="184.70" stroke="#000" stroke-width="0.8"/>
<line x1="432.93" y1="185.17" x2="432.93" y2="190.23" stroke="#000" stroke-width="0.8"/>
<line x1="431.12" y1="185.17" x2="434.73" y2="185.17" stroke="#000" stroke-width="0.8"/>
<line x1="431.12" y1="190.23" x2="434.73" y2="190.23" stroke="#000" stroke-width="0.8"/>
<line x1="437.50" y1="185.81" x2="437.50" y2="187.70" stroke="#000" stroke-width="0.8"/>
<line x1="435.69" y1="185.81" x2="439.30" y2="185.81" stroke="#000" stroke-width="0.8"/>
<line x1="435.69" y1="187.70" x2="439.30" y2="187.70" stroke="#000" stroke-width="0.8"/>
<line x1="442.07" y1="184.06" x2="442.07" y2="185.96" stroke="#000" stroke-width="0.8"/>
<line x1="440.27" y1="184.06" x2="443.87" y2="184.06" stroke="#000" stroke-width="0.8"/>
<line x1="440.27" y1="185.96" x2="443.87" y2="185.96" stroke="#000" stroke-width="0.8"/>
<rect x="328.60" y="156.62" width="3.00" height="3.00" fill="#fff" stroke="#000" stroke-width="0.8"/>
<rect x="335.46" y="183.51" width="3.00" height="3.00" fill="#fff" stroke="#000" stroke-width="0.8"/>
<rect x="340.03" y="194.59" width="3.00" height="3.00" fill="#fff" stroke="#000" stroke-width="0.8"/>
<rect x="344.60" y="200.92" width="3.00" height="3.00" fill="#fff" stroke="#000" stroke-width="0.8"/>
<rect x="351.45" y="200.76" width="3.00" height="3.00" fill="#fff" stroke="#000" stroke-width="0.8"/>
<rect x="356.02" y="196.17" width="3.00" height="3.00" fill="#fff" stroke="#000" stroke-width="0.8"/>
<circle cx="336.96" cy="185.01" r="1.4" fill="#fff" stroke="#000" stroke-width="0.9"/>
<circle cx="341.53" cy="179.64" r="1.4" fill="#fff" stroke="#000" stroke-width="0.9"/>
<circle cx="346.10" cy="174.10" r="1.4" fill="#fff" stroke="#000" stroke-width="0.9"/>
<circle cx="352.95" cy="172.36" r="1.4" fill="#fff" stroke="#000" stroke-width="0.9"/>
<circle cx="357.52" cy="173.62" r="1.4" fill="#fff" stroke="#000" stroke-width="0.9"/>
<circle cx="362.09" cy="174.57" r="1.4" fill="#fff" stroke="#000" stroke-width="0.9"/>
<circle cx="368.95" cy="179.16" r="1.4" fill="#fff" stroke="#000" stroke-width="0.9"/>
<circle cx="373.52" cy="179.64" r="1.4" fill="#fff" stroke="#000" stroke-width="0.9"/>
<circle cx="378.09" cy="182.17" r="1.4" fill="#fff" stroke="#000" stroke-width="0.9"/>
<circle cx="384.94" cy="180.27" r="1.4" fill="#fff" stroke="#000" stroke-width="0.9"/>
<circle cx="400.94" cy="183.91" r="1.4" fill="#fff" stroke="#000" stroke-width="0.9"/>
<circle cx="421.50" cy="177.10" r="1.4" fill="#fff" stroke="#000" stroke-width="0.9"/>
<circle cx="426.07" cy="176.63" r="1.4" fill="#fff" stroke="#000" stroke-width="0.9"/>
<circle cx="432.93" cy="176.63" r="1.4" fill="#fff" stroke="#000" stroke-width="0.9"/>
<circle cx="437.50" cy="173.47" r="1.4" fill="#fff" stroke="#000" stroke-width="0.9"/>
<circle cx="442.07" cy="173.94" r="1.4" fill="#fff" stroke="#000" stroke-width="0.9"/>
<circle cx="352.95" cy="196.40" r="1.8" fill="#000" stroke="#000" stroke-width="0.8"/>
<circle cx="357.52" cy="185.01" r="1.8" fill="#000" stroke="#000" stroke-width="0.8"/>
<circle cx="362.09" cy="174.41" r="1.8" fill="#000" stroke="#000" stroke-width="0.8"/>
<circle cx="368.95" cy="172.67" r="1.8" fill="#000" stroke="#000" stroke-width="0.8"/>
<circle cx="373.52" cy="174.57" r="1.8" fill="#000" stroke="#000" stroke-width="0.8"/>
<circle cx="378.09" cy="172.52" r="1.8" fill="#000" stroke="#000" stroke-width="0.8"/>
<circle cx="384.94" cy="166.98" r="1.8" fill="#000" stroke="#000" stroke-width="0.8"/>
<circle cx="400.94" cy="167.45" r="1.8" fill="#000" stroke="#000" stroke-width="0.8"/>
<circle cx="421.50" cy="179.79" r="1.8" fill="#000" stroke="#000" stroke-width="0.8"/>
<circle cx="426.07" cy="183.12" r="1.8" fill="#000" stroke="#000" stroke-width="0.8"/>
<circle cx="432.93" cy="187.70" r="1.8" fill="#000" stroke="#000" stroke-width="0.8"/>
<circle cx="437.50" cy="186.75" r="1.8" fill="#000" stroke="#000" stroke-width="0.8"/>
<circle cx="442.07" cy="185.01" r="1.8" fill="#000" stroke="#000" stroke-width="0.8"/>
<rect x="340.03" y="193.01" width="3.00" height="3.00" fill="#000" stroke="#000" stroke-width="0.8"/>
<rect x="328.70" y="156.72" width="2.80" height="2.80" fill="#000" stroke="#000" stroke-width="0.8"/>
<text x="461.2" y="93.7" font-size="6.6" font-weight="bold" text-anchor="start" textLength="45.4" lengthAdjust="spacingAndGlyphs" >BM Cell Donor</text>
<line x1="461.00" y1="96.10" x2="520.00" y2="96.10" stroke="#000" stroke-width="0.8"/>
<line x1="462.30" y1="101.30" x2="473.80" y2="101.30" stroke="#000" stroke-width="0.9"/>
<rect x="466.30" y="99.60" width="3.40" height="3.40" fill="#fff" stroke="#000" stroke-width="0.9"/>
<line x1="462.30" y1="111.50" x2="473.80" y2="111.50" stroke="#000" stroke-width="0.9"/>
<polygon points="465.90,111.50 468.00,109.40 470.10,111.50 468.00,113.60" fill="#fff" stroke="#000" stroke-width="0.8"/>
<line x1="462.30" y1="120.50" x2="473.80" y2="120.50" stroke="#000" stroke-width="0.9" stroke-dasharray="2.0 1.1"/>
<circle cx="468.00" cy="120.50" r="1.7" fill="#000" stroke="#000" stroke-width="0.8"/>
<text x="475.6" y="103.6" font-size="6.3" font-weight="normal" text-anchor="start" textLength="32.4" lengthAdjust="spacingAndGlyphs" style="stroke-width:0.06px">IL-15 tg B6</text>
<text x="475.6" y="113.8" font-size="6.3" font-weight="normal" text-anchor="start" textLength="32.4" lengthAdjust="spacingAndGlyphs" style="stroke-width:0.06px">IL-15 tg B6</text>
<text x="475.6" y="122.8" font-size="6.3" font-weight="normal" text-anchor="start" textLength="16" lengthAdjust="spacingAndGlyphs" style="stroke-width:0.06px">wt B6</text>
<text x="461.8" y="137.5" font-size="6.6" font-weight="bold" text-anchor="start" textLength="56.2" lengthAdjust="spacingAndGlyphs" >Splenocyte Donor</text>
<line x1="461.00" y1="139.80" x2="520.00" y2="139.80" stroke="#000" stroke-width="0.8"/>
<line x1="462.30" y1="145.60" x2="473.80" y2="145.60" stroke="#000" stroke-width="0.9"/>
<rect x="466.30" y="143.90" width="3.40" height="3.40" fill="#fff" stroke="#000" stroke-width="0.9"/>
<line x1="462.30" y1="155.20" x2="473.80" y2="155.20" stroke="#000" stroke-width="0.9"/>
<circle cx="468.00" cy="155.20" r="1.5" fill="#fff" stroke="#000" stroke-width="0.9"/>
<line x1="462.30" y1="163.50" x2="473.80" y2="163.50" stroke="#000" stroke-width="0.9" stroke-dasharray="2.0 1.1"/>
<circle cx="468.00" cy="163.50" r="1.7" fill="#000" stroke="#000" stroke-width="0.8"/>
<text x="479.3" y="147.9" font-size="6.3" font-weight="normal" text-anchor="start" textLength="14.7" lengthAdjust="spacingAndGlyphs" style="stroke-width:0.06px">wt B6</text>
<text x="477.6" y="157.5" font-size="6.3" font-weight="normal" text-anchor="start" textLength="27.8" lengthAdjust="spacingAndGlyphs" style="stroke-width:0.06px">T-bet<tspan font-size="3.8" dy="-2.4">-/-</tspan><tspan dy="2.4"> B6</tspan></text>
<text x="479.3" y="165.8" font-size="6.3" font-weight="normal" text-anchor="start" textLength="14.7" lengthAdjust="spacingAndGlyphs" style="stroke-width:0.06px">wt B6</text>
</svg>
</body></html>
